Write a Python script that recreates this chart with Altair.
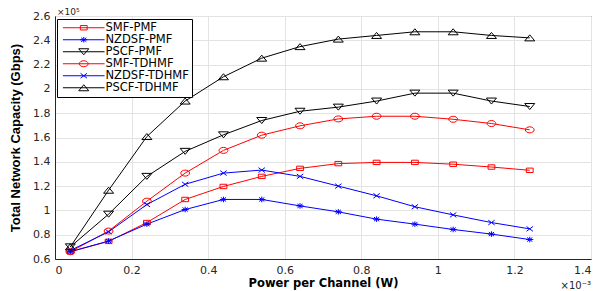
import altair as alt
import pandas as pd

# x in units of 1e-3 W, y in units of 1e5 Gbps
power = [0.04, 0.14, 0.24, 0.34, 0.44, 0.54, 0.64, 0.74, 0.84, 0.94, 1.04, 1.14, 1.24]
series_names = ["SMF-PMF", "NZDSF-PMF", "PSCF-PMF", "SMF-TDHMF", "NZDSF-TDHMF", "PSCF-TDHMF"]
smf_pmf = [0.66, 0.745, 0.90, 1.09, 1.197, 1.28, 1.346, 1.385, 1.395, 1.395, 1.38, 1.357, 1.33]
nzdsf_pmf = [0.66, 0.748, 0.887, 1.007, 1.09, 1.09, 1.037, 0.988, 0.928, 0.887, 0.843, 0.805, 0.76]
pscf_pmf = [0.70, 0.969, 1.28, 1.486, 1.622, 1.74, 1.816, 1.85, 1.90, 1.965, 1.965, 1.90, 1.855]
smf_tdhmf = [0.66, 0.83, 1.076, 1.307, 1.494, 1.619, 1.696, 1.753, 1.775, 1.775, 1.75, 1.715, 1.663]
nzdsf_tdhmf = [0.67, 0.824, 1.048, 1.215, 1.307, 1.332, 1.28, 1.20, 1.12, 1.03, 0.963, 0.90, 0.848]
pscf_tdhmf = [0.70, 1.166, 1.608, 1.90, 2.10, 2.253, 2.348, 2.41, 2.44, 2.47, 2.47, 2.44, 2.42]
colors = ["#ff0000", "#0000ff", "#000000", "#ff0000", "#0000ff", "#000000"]
x_ticks = [0, 0.2, 0.4, 0.6, 0.8, 1.0, 1.2, 1.4]
y_ticks = [0.6, 0.8, 1.0, 1.2, 1.4, 1.6, 1.8, 2.0, 2.2, 2.4, 2.6]

shapes = [
    "M-0.85,-0.55H0.85V0.55H-0.85Z",
    "M-0.9,0H0.9M0,-0.7V0.7M-0.65,-0.5L0.65,0.5M-0.65,0.5L0.65,-0.5",
    "M-1.25,-0.75H1.25L0,0.75Z",
    "M-1.1,0A1.1,0.75 0 1,0 1.1,0A1.1,0.75 0 1,0 -1.1,0Z",
    "M-0.8,-0.6L0.8,0.6M-0.8,0.6L0.8,-0.6",
    "M-1.25,0.75H1.25L0,-0.75Z",
]

all_vals = [smf_pmf, nzdsf_pmf, pscf_pmf, smf_tdhmf, nzdsf_tdhmf, pscf_tdhmf]
rows = []
for name, vals in zip(series_names, all_vals):
    for xv, yv in zip(power, vals):
        rows.append({"series": name, "sl": name, "power": xv, "cap": yv})
df = pd.DataFrame(rows)

xenc = alt.X("power:Q", scale=alt.Scale(domain=[0, 1.4], nice=False),
             axis=alt.Axis(values=x_ticks, format="~g", title="Power per Channel (W)",
                           titleFont="DejaVu Sans", titleFontWeight="bold", titleFontSize=11.5,
                           titlePadding=2))
yenc = alt.Y("cap:Q", scale=alt.Scale(domain=[0.6, 2.6], nice=False, zero=False),
             axis=alt.Axis(values=y_ticks, format="~g", title="Total Network Capacity (Gbps)",
                           titleFont="Liberation Sans Narrow, Liberation Sans", titleFontWeight="bold",
                           titleFontSize=13, titlePadding=10))

common_legend = dict(title=None, orient="none", legendX=2, legendY=3,
                     labelFont="DejaVu Sans", labelFontSize=11.5,
                     symbolSize=64, symbolStrokeWidth=1, rowPadding=-11,
                     padding=3, symbolOffset=18, labelOffset=16)

lines = alt.Chart(df).mark_line(strokeWidth=1).encode(
    x=xenc, y=yenc,
    color=alt.Color("sl:N", scale=alt.Scale(domain=series_names, range=colors),
                    sort=series_names,
                    legend=alt.Legend(symbolType="M-5.2,0H5.2", labelColor="#000000",
                                      strokeColor="#000000", fillColor="#ffffff", zindex=1,
                                      **common_legend)),
    detail="sl:N",
)
points = alt.Chart(df).mark_point(filled=False, size=64, strokeWidth=1, opacity=1).encode(
    x=xenc, y=yenc,
    color=alt.Color("series:N", scale=alt.Scale(domain=series_names, range=colors),
                    sort=series_names,
                    legend=alt.Legend(labelExpr="' '", zindex=2, **common_legend)),
    shape=alt.Shape("series:N", scale=alt.Scale(domain=series_names, range=shapes),
                    sort=series_names),
)

exp_y = alt.Chart(pd.DataFrame({"t": ["×10⁵"]})).mark_text(
    align="left", baseline="alphabetic", font="DejaVu Sans", fontSize=9, color="#262626"
).encode(text="t:N", x=alt.value(2), y=alt.value(-1))
exp_x = alt.Chart(pd.DataFrame({"t": ["×10⁻³"]})).mark_text(
    align="right", baseline="middle", font="DejaVu Sans", fontSize=10, color="#262626"
).encode(text="t:N", x=alt.value(536), y=alt.value(270))

chart = alt.layer(lines, points, exp_y, exp_x).resolve_scale(
    color="independent", shape="independent"
).resolve_legend(color="independent").properties(
    width=536, height=243,
    autosize=alt.AutoSizeParams(type="none"),
    padding={"left": 47, "top": 8, "right": 1, "bottom": 32},
).configure_view(stroke="#262626", strokeWidth=1).configure_axis(
    grid=True, gridColor="#e3e3e3", gridWidth=1, domainColor="#262626", ticks=False,
    labelFont="DejaVu Sans", labelFontSize=11, labelColor="#262626", labelPadding=5,
    titleColor="#000000",
)

chart.save("out.html", embed_options={"renderer": "svg", "actions": False})
